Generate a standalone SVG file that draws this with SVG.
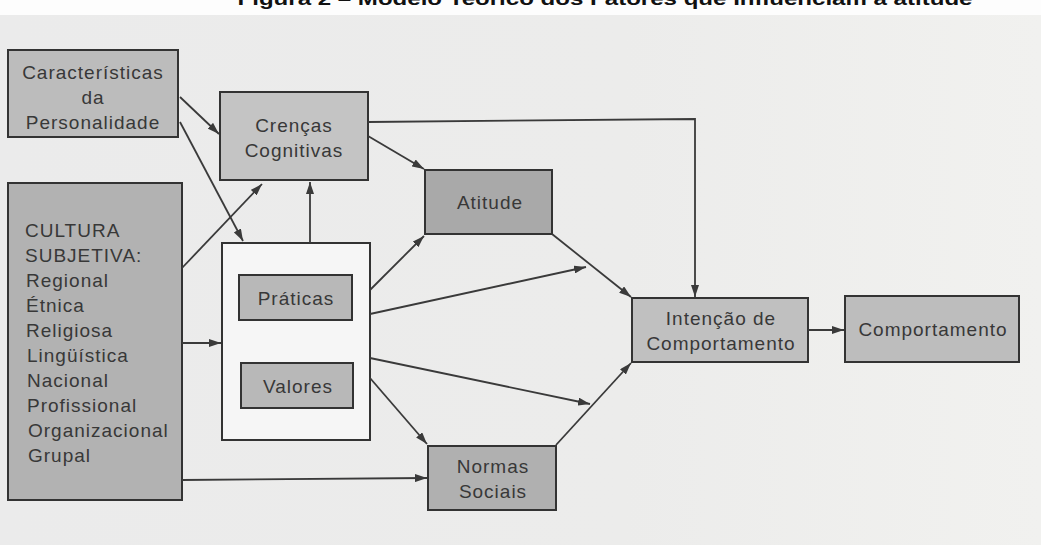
<svg xmlns="http://www.w3.org/2000/svg" width="1041" height="545" viewBox="0 0 1041 545">
<defs>
<marker id="ah" viewBox="0 0 12 8" refX="12" refY="4" markerWidth="12" markerHeight="8" markerUnits="userSpaceOnUse" orient="auto">
<path d="M0,0 L12,4 L0,8 z" fill="#3a3a3a"/>
</marker>
<linearGradient id="bg" x1="0" y1="0" x2="1" y2="0">
<stop offset="0" stop-color="#ebebeb"/>
<stop offset="0.6" stop-color="#ececeb"/>
<stop offset="1" stop-color="#f1f1ef"/>
</linearGradient>
</defs>
<style>
.box{stroke:#333;stroke-width:2}
.t{font-family:"Liberation Sans",Arial,sans-serif;font-size:19px;letter-spacing:1px;fill:#383838}
.c{text-anchor:middle}
.conn line,.conn polyline{stroke:#3a3a3a;stroke-width:1.8;fill:none;marker-end:url(#ah)}
</style>
<rect x="0" y="0" width="1041" height="545" fill="#fdfdfd"/>
<rect x="0" y="15" width="1041" height="530" fill="url(#bg)"/>
<text x="605" y="5" text-anchor="middle" font-family="Liberation Sans,Arial,sans-serif" font-weight="bold" font-size="19" fill="#111" textLength="735" lengthAdjust="spacingAndGlyphs">Figura 2 – Modelo Teórico dos Fatores que Influenciam a atitude</text>

<g id="personalidade">
<rect class="box" x="8" y="50" width="170" height="87" fill="#bcbcbc"/>
<text class="t c" x="93" y="79">Características</text>
<text class="t c" x="93" y="104">da</text>
<text class="t c" x="93" y="129">Personalidade</text>
</g>
<g id="crencas">
<rect class="box" x="220" y="92" width="148" height="88" fill="#c4c4c4"/>
<text class="t c" x="294" y="132">Crenças</text>
<text class="t c" x="294" y="157">Cognitivas</text>
</g>
<g id="cultura">
<rect class="box" x="8" y="183" width="174" height="317" fill="#b2b2b2"/>
<text class="t" x="25" y="237">CULTURA</text>
<text class="t" x="25" y="262">SUBJETIVA:</text>
<text class="t" x="26" y="287">Regional</text>
<text class="t" x="26" y="312">Étnica</text>
<text class="t" x="26" y="337">Religiosa</text>
<text class="t" x="27" y="362">Lingüística</text>
<text class="t" x="27" y="387">Nacional</text>
<text class="t" x="27" y="412">Profissional</text>
<text class="t" x="28" y="437">Organizacional</text>
<text class="t" x="28" y="462">Grupal</text>
</g>
<g id="grupo">
<rect class="box" x="222" y="243" width="148" height="197" fill="#f6f6f6"/>
</g>
<g id="praticas">
<rect class="box" x="239" y="275" width="113" height="45" fill="#b8b8b8"/>
<text class="t c" x="296" y="305">Práticas</text>
</g>
<g id="valores">
<rect class="box" x="241" y="363" width="112" height="45" fill="#b8b8b8"/>
<text class="t c" x="298" y="393">Valores</text>
</g>
<g id="atitude">
<rect class="box" x="425" y="170" width="127" height="64" fill="#a9a9a9"/>
<text class="t c" x="490" y="209">Atitude</text>
</g>
<g id="normas">
<rect class="box" x="428" y="446" width="128" height="64" fill="#b0b0b0"/>
<text class="t c" x="493" y="473">Normas</text>
<text class="t c" x="493" y="498">Sociais</text>
</g>
<g id="intencao">
<rect class="box" x="632" y="298" width="176" height="64" fill="#c0c0c0"/>
<text class="t c" x="721" y="325">Intenção de</text>
<text class="t c" x="721" y="350">Comportamento</text>
</g>
<g id="comportamento">
<rect class="box" x="845" y="296" width="174" height="66" fill="#bdbdbd"/>
<text class="t c" x="933" y="336">Comportamento</text>
</g>

<g class="conn" id="connectors">
<line x1="180" y1="97" x2="219" y2="134"/>
<line x1="180" y1="122" x2="243" y2="241"/>
<line x1="182" y1="268" x2="262" y2="184"/>
<line x1="310" y1="243" x2="310" y2="182"/>
<line x1="182" y1="343" x2="221" y2="343"/>
<line x1="182" y1="480" x2="427" y2="478"/>
<polyline points="368,122 695,119 695,297"/>
<line x1="368" y1="136" x2="424" y2="169"/>
<line x1="370" y1="290" x2="424" y2="236"/>
<line x1="370" y1="314" x2="586" y2="267"/>
<line x1="370" y1="358" x2="590" y2="404"/>
<line x1="370" y1="378" x2="427" y2="444"/>
<line x1="552" y1="234" x2="631" y2="297"/>
<line x1="556" y1="445" x2="631" y2="363"/>
<line x1="808" y1="330" x2="844" y2="330"/>
</g>
</svg>
